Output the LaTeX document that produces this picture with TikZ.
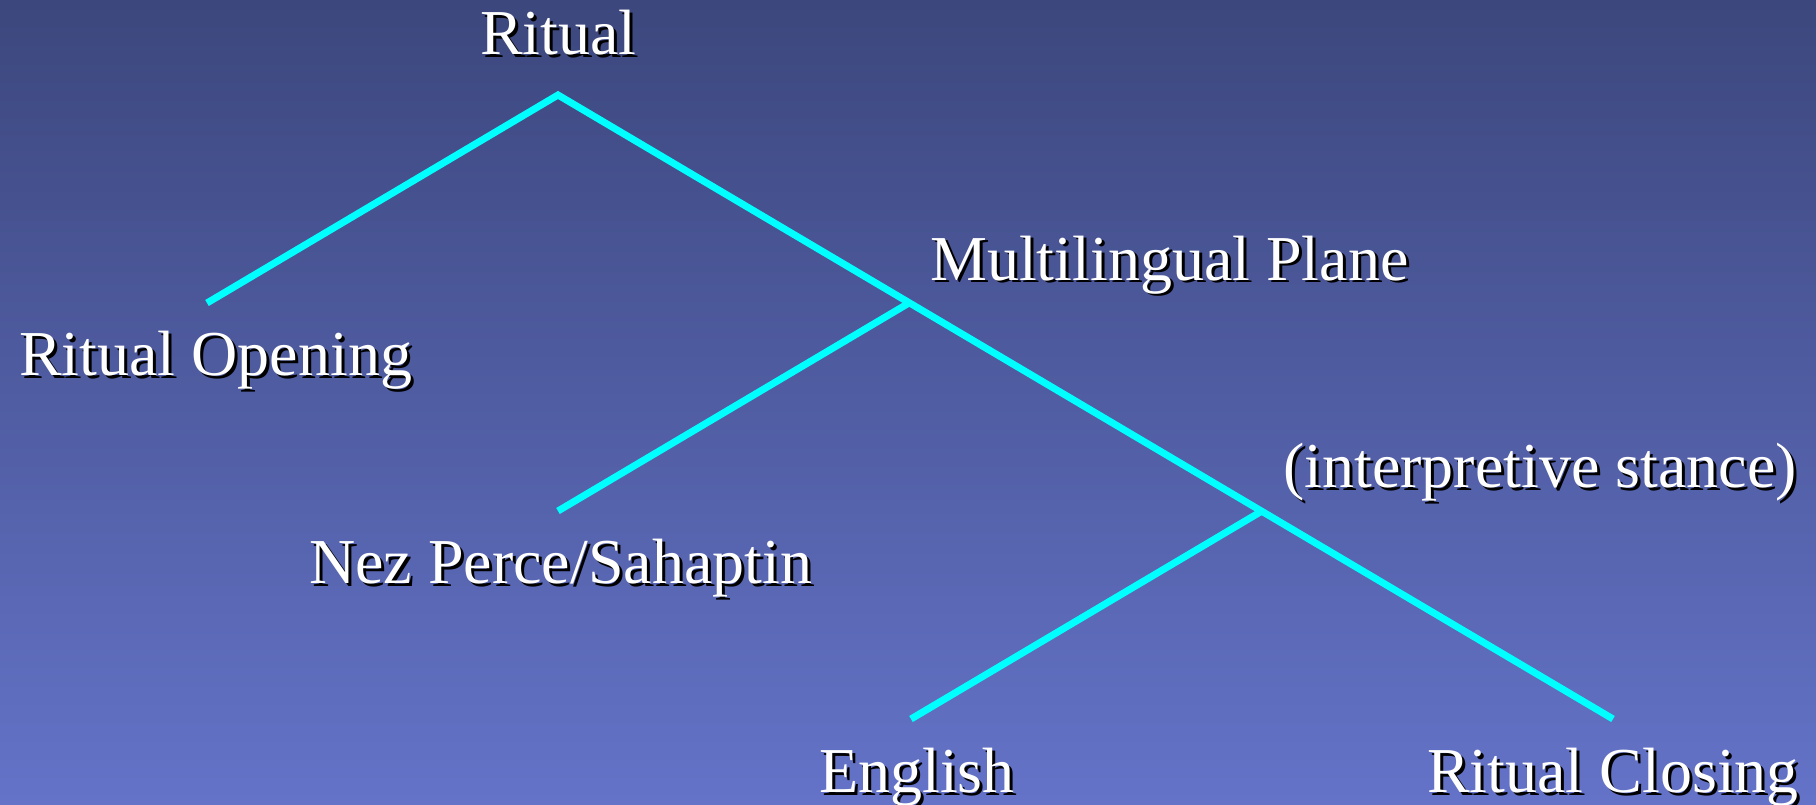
\documentclass[tikz,border=0pt]{standalone}
\usepackage{fontspec}
\setmainfont{Liberation Serif}
\newfontfamily\timesfont{Liberation Serif}
\definecolor{bgtop}{RGB}{60,71,125}
\definecolor{bgbot}{RGB}{100,115,200}
\definecolor{branchcol}{RGB}{0,255,255}
\newcommand{\shtext}[4]{%
  \node[shd] at (#2+3,#3+3) {#4};
  \node[lbl] (#1) at (#2,#3) {#4};}
\begin{document}
\begin{tikzpicture}[x=1pt,y=-1pt,
  lbl/.style={text=white, font=\timesfont\fontsize{64}{70}\selectfont, inner sep=0pt, anchor=base west},
  shd/.style={lbl, text=black},
  branch/.style={draw=branchcol, line width=7pt, line join=miter}]
\shade[top color=bgtop, bottom color=bgbot] (0,0) rectangle (1816,805);
\useasboundingbox (0,0) rectangle (1816,805);
\coordinate (top) at (558,95);
\coordinate (lo) at (207,303);
\coordinate (mp) at (909,303);
\coordinate (np) at (558,511);
\coordinate (ip) at (1262,511);
\coordinate (en) at (911,719);
\coordinate (rc) at (1613,719);
\draw[branch] (lo) -- (top) -- (rc);
\draw[branch] (mp) -- (np);
\draw[branch] (ip) -- (en);
\shtext{ritual}{480}{55}{Ritual}
\shtext{ropen}{19}{375}{Ritual Opening}
\shtext{multi}{930}{280}{Multilingual Plane}
\shtext{interp}{1283}{487}{(interpretive stance)}
\shtext{nez}{309}{583}{Nez Perce/Sahaptin}
\shtext{eng}{819}{792}{English}
\shtext{rclose}{1427}{792}{Ritual Closing}
\end{tikzpicture}
\end{document}
